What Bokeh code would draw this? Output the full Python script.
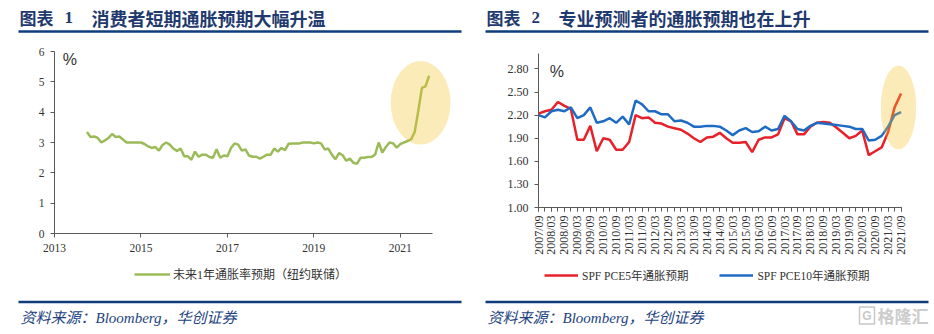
import math
from bokeh.plotting import figure
from bokeh.layouts import row, column
from bokeh.models import Range1d, FixedTicker, Legend, LegendItem
from bokeh.core.properties import value
from bokeh.embed import file_html
from bokeh.resources import INLINE

# ---------------- data ----------------
left_title_no = "图表"
left_title_num = "1"
left_title = "消费者短期通胀预期大幅升温"
right_title_no = "图表"
right_title_num = "2"
right_title = "专业预测者的通胀预期也在上升"
source_note = "资料来源：Bloomberg，华创证券"
watermark = "格隆汇"

# NY Fed SCE, 1-year ahead inflation expectation, monthly from 2013-09 to 2021-08
sce_start_year = 2013
sce_start_month = 9
sce_values = [
    3.35, 3.18, 3.20, 3.15,
    3.00, 3.07, 3.15, 3.28, 3.18, 3.20, 3.10, 3.00, 3.00, 3.00, 3.00, 3.00,
    2.95, 2.87, 2.82, 2.85, 2.73, 2.92, 3.00, 2.93, 2.80, 2.72, 2.80, 2.55,
    2.55, 2.43, 2.70, 2.53, 2.60, 2.60, 2.52, 2.50, 2.78, 2.50, 2.57, 2.55,
    2.82, 2.97, 2.93, 2.73, 2.77, 2.57, 2.53, 2.53, 2.47, 2.53, 2.60, 2.60,
    2.80, 2.70, 2.82, 2.75, 2.96, 2.97, 2.97, 2.97, 3.00, 3.00, 3.00, 2.97,
    3.00, 2.97, 2.77, 2.80, 2.60, 2.45, 2.65, 2.58, 2.40, 2.47, 2.33, 2.30,
    2.50, 2.50, 2.52, 2.52, 2.60, 3.00, 2.67, 2.85, 3.00, 2.97, 2.83, 2.95,
    3.00, 3.05, 3.10, 3.35, 4.05, 4.80, 4.85, 5.20,
]
sce_label = "未来1年通胀率预期（纽约联储）"
left_x_ticks = [2013, 2015, 2017, 2019, 2021]
left_y_ticks = [0, 1, 2, 3, 4, 5, 6]

# SPF PCE inflation expectations, quarterly 2007/09 .. 2021/09
spf_start_year = 2007
spf_start_month = 9
spf_pce5 = [
    2.22, 2.25, 2.27, 2.37, 2.32, 2.28, 1.88, 1.88, 2.06, 1.73,
    1.90, 1.88, 1.75, 1.75, 1.85, 2.20, 2.16, 2.17, 2.10, 2.09,
    2.05, 2.03, 2.01, 1.96, 1.90, 1.85, 1.91, 1.92, 1.97, 1.90,
    1.84, 1.84, 1.85, 1.72, 1.88, 1.91, 1.91, 1.95, 2.16, 2.12,
    1.95, 1.95, 2.05, 2.10, 2.11, 2.10, 2.04, 1.97, 1.90, 1.93,
    2.00, 1.68, 1.73, 1.78, 1.98, 2.30, 2.48,
]
spf_pce10 = [
    2.20, 2.17, 2.25, 2.27, 2.25, 2.30, 2.16, 2.20, 2.30, 2.10,
    2.12, 2.16, 2.10, 2.18, 2.08, 2.39, 2.34, 2.25, 2.25, 2.21,
    2.21, 2.12, 2.13, 2.10, 2.05, 2.05, 2.06, 2.06, 2.05, 2.00,
    1.94, 2.00, 2.03, 1.98, 1.99, 2.05, 2.00, 2.02, 2.19, 2.12,
    2.02, 2.00, 2.06, 2.10, 2.09, 2.08, 2.07, 2.06, 2.05, 2.02,
    2.02, 1.87, 1.88, 1.93, 2.05, 2.20, 2.24,
]
spf_label5 = "SPF PCE5年通胀预期"
spf_label10 = "SPF PCE10年通胀预期"
right_y_ticks = [1.00, 1.30, 1.60, 1.90, 2.20, 2.50, 2.80]

# ---------------- derived ----------------
sce_x = []
for i in range(len(sce_values)):
    m = sce_start_month - 1 + i
    sce_x.append(sce_start_year + m // 12 + (m % 12 + 1) / 12.0)

spf_quarters = []
for i in range(len(spf_pce5)):
    m = spf_start_month - 1 + 3 * i
    spf_quarters.append(f"{spf_start_year + m // 12}/{m % 12 + 1:02d}")
spf_idx = list(range(len(spf_quarters)))

# ---------------- styles ----------------
NAVY = "#1F3A6E"
RULE = "#0F3C7A"
SRC = "#22437F"
GREEN = "#9BBB59"
RED = "#E8202A"
BLUE = "#1F6BC4"
HILITE = "#F4C32B"
AXIS = "#595959"
TXT = "#333333"
CJK = "Noto Sans CJK SC"
SERIF = "Liberation Serif"
FULL_W = 934
HALF = 467


def blank(width, height):
    p = figure(width=width, height=height, x_range=Range1d(0, width),
               y_range=Range1d(height, 0), x_axis_type=None, y_axis_type=None,
               toolbar_location=None, output_backend="svg", min_border=0,
               min_border_left=0, min_border_right=0, min_border_top=0,
               min_border_bottom=0, outline_line_color=None)
    p.grid.visible = False
    return p


# ---------------- header (both titles) ----------------
hdr = blank(FULL_W, 40)
for off, no, num, title in ((0, left_title_no, left_title_num, left_title),
                            (HALF, right_title_no, right_title_num, right_title)):
    hdr.text(x=[off + 19], y=[17], text=[no], text_font=value(CJK), text_font_style="bold",
             text_font_size="17px", text_color=NAVY, text_baseline="middle")
    hdr.text(x=[off + 64], y=[17], text=[num], text_font=value(SERIF), text_font_style="bold",
             text_font_size="17px", text_color=NAVY, text_baseline="middle")
    hdr.text(x=[off + 91], y=[17], text=[title], text_font=value(CJK), text_font_style="bold",
             text_font_size="18px", text_color=NAVY, text_baseline="middle")
    hdr.segment(x0=[off + 18], y0=[31], x1=[off + 461], y1=[31], line_color=RULE, line_width=2.5)

# ---------------- footer (legends, rules, sources) ----------------
ftr = blank(FULL_W, 69)
for off in (0, HALF):
    ftr.segment(x0=[off + 18], y0=[36.5], x1=[off + 461], y1=[36.5], line_color=RULE, line_width=2.5)
    ftr.text(x=[off + 20], y=[52], text=[source_note], text_font=value(SERIF + ", " + CJK),
             text_font_style="italic", text_font_size="15px", text_color=SRC,
             text_baseline="middle")
ftr.rect(x=[866.5], y=[50], width=15, height=17, fill_color=None,
         line_color="#c8c8c8", line_width=1.5)
ftr.text(x=[866.5], y=[50.5], text=["G"], text_font=value("Liberation Sans"),
         text_font_style="bold", text_font_size="12px", text_color="#c8c8c8",
         text_align="center", text_baseline="middle")
ftr.text(x=[877], y=[50], text=[watermark], text_font=value(CJK),
         text_font_style="bold", text_font_size="17px", text_color="#cccccc",
         text_baseline="middle")

# legend key proxies (kept outside the visible footer area)
proxy_x = [-50, -40]
proxy_y = [-50, -50]
key_g = ftr.line(x=proxy_x, y=proxy_y, line_color=GREEN, line_width=2.5)
key_r = ftr.line(x=proxy_x, y=proxy_y, line_color=RED, line_width=2.5)
key_b = ftr.line(x=proxy_x, y=proxy_y, line_color=BLUE, line_width=2.5)
leg_common = dict(orientation="horizontal", glyph_height=14, label_height=14,
                  padding=0, margin=0, border_line_color=None, background_fill_alpha=0,
                  label_text_font=SERIF + ", " + CJK, label_text_color=TXT)
ftr.add_layout(Legend(items=[LegendItem(label=sce_label, renderers=[key_g])],
                      location=(134, 51), glyph_width=36, label_standoff=3,
                      label_text_font_size="12px", **leg_common))
ftr.add_layout(Legend(items=[LegendItem(label=spf_label5, renderers=[key_r]),
                             LegendItem(label=spf_label10, renderers=[key_b])],
                      location=(544, 51), glyph_width=34, label_standoff=4, spacing=31,
                      label_text_font_size="11.5px", **leg_common))


def style_axes(p, size):
    for ax in (p.xaxis[0], p.yaxis[0]):
        ax.axis_line_color = AXIS
        ax.axis_line_width = 1
        ax.major_tick_line_color = AXIS
        ax.minor_tick_line_color = AXIS
        ax.major_tick_in = 0
        ax.major_tick_out = 4
        ax.minor_tick_in = 0
        ax.minor_tick_out = 0
        ax.major_label_text_font = SERIF
        ax.major_label_text_font_size = size
        ax.major_label_text_color = TXT
        ax.major_label_standoff = 6
    p.grid.visible = False
    p.outline_line_color = None


# ---------------- left chart ----------------
c1 = figure(width=HALF, height=225, x_range=Range1d(2013, 2022.3), y_range=Range1d(0, 6),
            toolbar_location=None, output_backend="svg",
            min_border_left=54, min_border_right=11, min_border_top=11, min_border_bottom=32)
style_axes(c1, "11.5px")
c1.xaxis.ticker = FixedTicker(ticks=left_x_ticks)
c1.xaxis.bounds = (2013, 2021.75)
c1.yaxis.ticker = FixedTicker(ticks=left_y_ticks)
c1.line(sce_x, sce_values, line_color=GREEN, line_width=2.5)
c1.ellipse(x=[2021.47], y=[4.31], width=[1.386], height=[2.76],
           fill_color=HILITE, fill_alpha=0.33, line_color=None)
c1.text(x=[2013.19], y=[5.74], text=["%"], text_font=value("Liberation Sans"),
        text_font_size="16px", text_color=TXT, text_baseline="middle")

# ---------------- right chart ----------------
c2 = figure(width=HALF, height=225, x_range=Range1d(0, 59), y_range=Range1d(1.0, 3.0),
            toolbar_location=None, output_backend="svg",
            min_border_left=71, min_border_right=14, min_border_top=13, min_border_bottom=58)
style_axes(c2, "12px")
c2.xaxis.ticker = FixedTicker(ticks=spf_idx[::2], minor_ticks=spf_idx)
c2.xaxis.minor_tick_out = 4
c2.xaxis.major_label_overrides = {i: spf_quarters[i] for i in spf_idx[::2]}
c2.xaxis.major_label_orientation = math.pi / 2
c2.xaxis.major_label_standoff = 4
c2.xaxis.bounds = (0, len(spf_idx) - 1)
c2.yaxis.ticker = FixedTicker(ticks=right_y_ticks)
c2.yaxis.major_label_overrides = {t: f"{t:.2f}" for t in right_y_ticks}
c2.line(spf_idx, spf_pce5, line_color=RED, line_width=2.5)
c2.line(spf_idx, spf_pce10, line_color=BLUE, line_width=2.5)
c2.ellipse(x=[55.6], y=[2.30], width=[5.46], height=[1.09],
           fill_color=HILITE, fill_alpha=0.33, line_color=None)
c2.text(x=[1.75], y=[2.76], text=["%"], text_font=value("Liberation Sans"),
        text_font_size="16px", text_color=TXT, text_baseline="middle")

layout = column(hdr, row(column(c1), column(c2)), ftr)

open("out.html", "w").write(file_html(layout, INLINE))
